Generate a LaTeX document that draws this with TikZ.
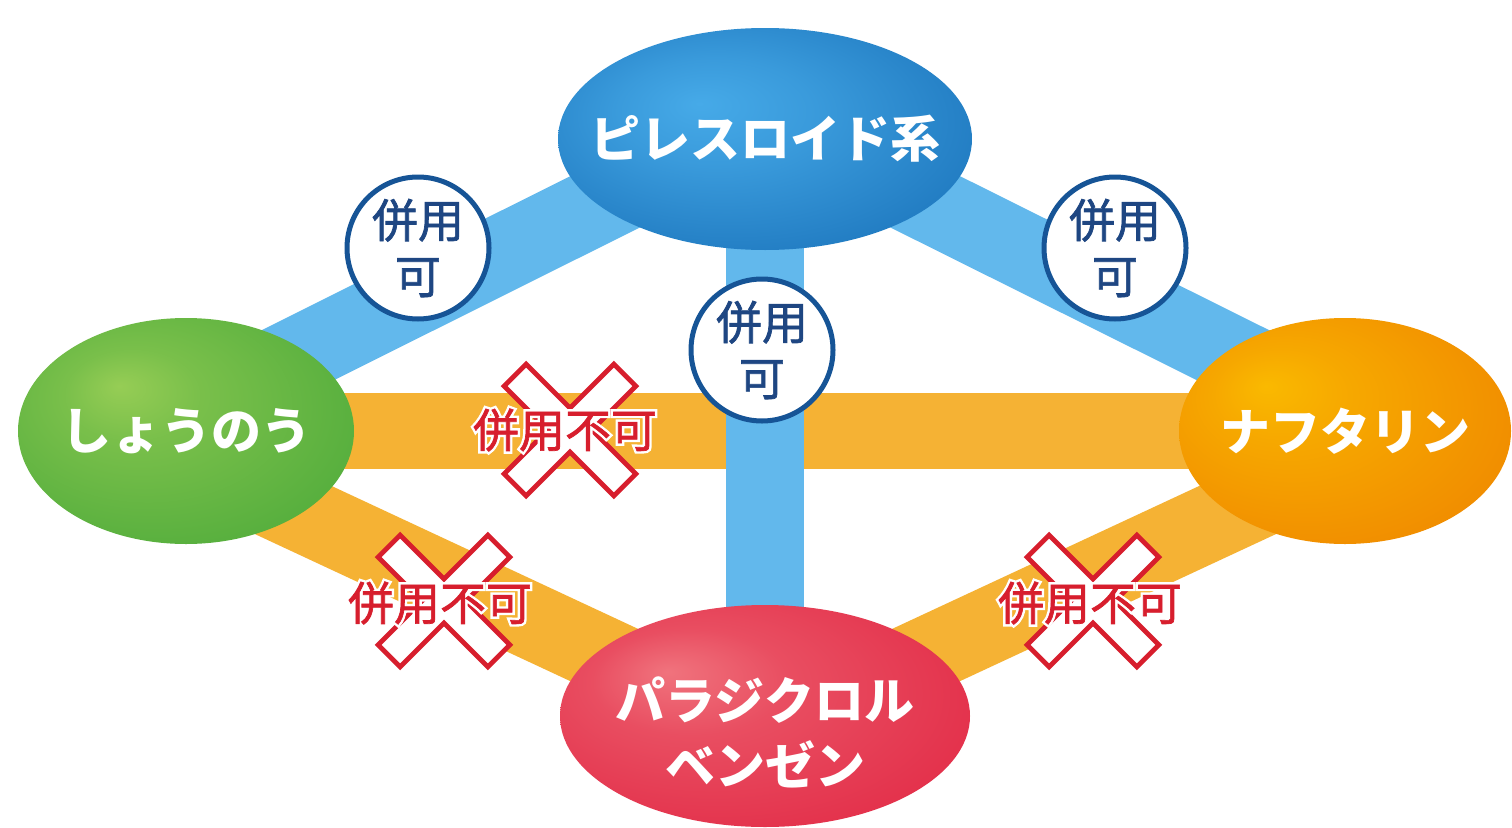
\documentclass[tikz,border=0pt]{standalone}
\usepackage{fontspec}
\newfontfamily\jp{Noto Sans CJK JP}
\newfontfamily\jpmed{Noto Sans CJK JP}[FakeBold=1.5]
\newfontfamily\jphalo{Noto Sans CJK JP}[FakeBold=12]
\usetikzlibrary{shapes.geometric,calc}
\definecolor{bandBlue}{RGB}{98,184,236}
\definecolor{bandOrange}{RGB}{245,178,52}
\definecolor{circBorder}{RGB}{22,84,150}
\definecolor{circText}{RGB}{30,70,130}
\definecolor{ngRed}{RGB}{215,30,45}
\definecolor{blueHi}{RGB}{70,170,232}
\definecolor{blueLo}{RGB}{8,92,168}
\definecolor{greenHi}{RGB}{150,205,85}
\definecolor{greenLo}{RGB}{55,160,50}
\definecolor{orangeHi}{RGB}{250,185,0}
\definecolor{orangeLo}{RGB}{236,118,0}
\definecolor{redHi}{RGB}{240,115,125}
\definecolor{redLo}{RGB}{222,22,55}
\pgfdeclareradialshading{shBlue}{\pgfpoint{-8bp}{8bp}}{color(0bp)=(blueHi); color(12bp)=(blueHi!80!blueLo); color(50bp)=(blueLo)}
\pgfdeclareradialshading{shGreen}{\pgfpoint{-10bp}{10bp}}{color(0bp)=(greenHi); color(10bp)=(greenHi!70!greenLo); color(50bp)=(greenLo)}
\pgfdeclareradialshading{shOrange}{\pgfpoint{-12bp}{10bp}}{color(0bp)=(orangeHi); color(10bp)=(orangeHi!75!orangeLo); color(50bp)=(orangeLo)}
\pgfdeclareradialshading{shRed}{\pgfpoint{-12bp}{10bp}}{color(0bp)=(redHi); color(12bp)=(redHi!60!redLo); color(50bp)=(redLo)}
\pgfdeclarelayer{bg}
\pgfsetlayers{bg,main}
\tikzset{
  ell/.style={ellipse, inner sep=0pt},
  elltext/.style={text=white, align=center, inner sep=0pt,
    font=\jp\bfseries\fontsize{50pt}{65pt}\selectfont},
  bandB/.style={draw=bandBlue, line width=77pt},
  bandO/.style={draw=bandOrange, line width=76pt},
  okc/.style={circle, draw=circBorder, line width=5pt, fill=white,
    minimum size=142pt, inner sep=0pt, text=circText, align=center,
    font=\jpmed\fontsize{46pt}{56pt}\selectfont},
  ngtext/.style={text=ngRed, inner sep=0pt, font=\jpmed\fontsize{46pt}{50pt}\selectfont},
  nghalo/.style={text=white, inner sep=0pt, font=\jphalo\fontsize{46pt}{50pt}\selectfont},
  ngbar/.style={line join=miter}
}
\newcommand\ngcross[1]{%
  \begin{scope}[shift={#1}]
    \foreach \a in {45,-45} \draw[ngRed, line width=10pt, ngbar, rotate=\a] (-75,-13) rectangle (75,13);
    \foreach \a in {45,-45} \fill[white, rotate=\a] (-75,-13) rectangle (75,13);
  \end{scope}}
\begin{document}
\begin{tikzpicture}[x=1pt, y=-1pt]
\useasboundingbox (0,0) rectangle (1512,827);
% main nodes
\node[ell, shading=shBlue, minimum width=414pt, minimum height=222pt] (pyr) at (765,139) {};
\node[ell, shading=shGreen, minimum width=336pt, minimum height=226pt] (sho) at (186,431) {};
\node[ell, shading=shOrange, minimum width=332pt, minimum height=226pt] (nap) at (1345,431) {};
\node[ell, shading=shRed, minimum width=410pt, minimum height=222pt] (par) at (765,716) {};
\node[elltext] (pyrt) at (pyr) {ピレスロイド系};
\node[elltext] (shot) at (sho) {しょうのう};
\node[elltext] (napt) at (nap) {ナフタリン};
\node[elltext] (part) at ([yshift=-16pt]par.center) {パラジクロル\\ベンゼン};
% bands
\begin{pgfonlayer}{bg}
  \fill[white] (0,0) rectangle (1512,827);
  \draw[bandB] ([yshift=17pt]pyr.center) -- ([yshift=20pt]sho.center);
  \draw[bandB] ([yshift=17pt]pyr.center) -- ([yshift=20pt]nap.center);
  \draw[bandO] (sho.center) -- (nap.center);
  \draw[bandO] ([yshift=-29pt]sho.center) -- ([yshift=-14pt]par.center);
  \draw[bandO] ([yshift=-29pt]nap.center) -- ([yshift=-14pt]par.center);
  \draw[bandB, line width=78pt] (pyr.center) -- (par.center);
\end{pgfonlayer}
% compatible circles
\node[okc] (ok1) at (418,248) {併用\\可};
\node[okc] (ok2) at (1115,248) {併用\\可};
\node[okc] (ok3) at (762,350) {併用\\可};
% incompatible marks
\ngcross{(570,430)}
\ngcross{(444,601)}
\ngcross{(1093,601)}
\node[nghalo] (ng1h) at (565,430) {併用不可};
\node[ngtext] (ng1) at (ng1h) {併用不可};
\node[nghalo] (ng2h) at (440,603) {併用不可};
\node[ngtext] (ng2) at (ng2h) {併用不可};
\node[nghalo] (ng3h) at (1090,603) {併用不可};
\node[ngtext] (ng3) at (ng3h) {併用不可};
\end{tikzpicture}
\end{document}
